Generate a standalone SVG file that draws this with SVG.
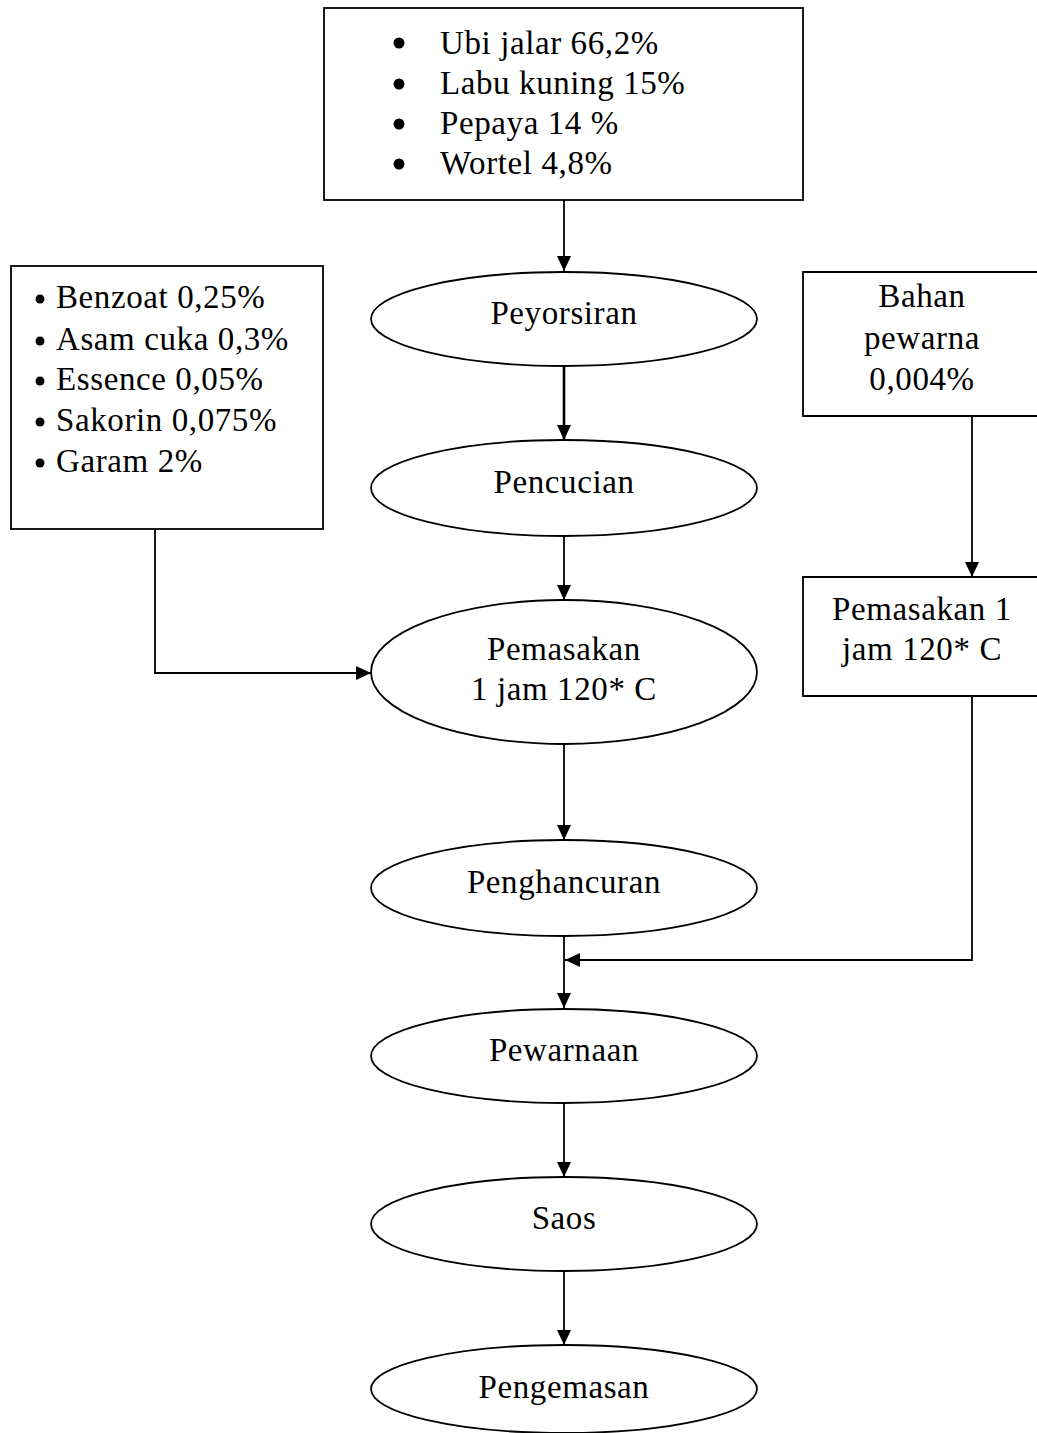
<svg xmlns="http://www.w3.org/2000/svg" width="1037" height="1433" viewBox="0 0 1037 1433">
<defs>
<marker id="ah" markerWidth="15" markerHeight="14" viewBox="0 0 15 14" refX="15" refY="7" orient="auto" markerUnits="userSpaceOnUse">
<path d="M0,0 L15,7 L0,14 Z" fill="#000"/>
</marker>
<style>
text{font-family:"Liberation Serif","Times New Roman",serif;font-size:33px;letter-spacing:0.6px;fill:#000}
.c{text-anchor:middle}
.box{fill:#fff;stroke:#000;stroke-width:1.8}
.el{fill:#fff;stroke:#000;stroke-width:1.8}
.ln{fill:none;stroke:#000;stroke-width:1.8}
.b{fill:#000}
</style>
</defs>
<rect width="1037" height="1433" fill="#fff"/>

<g id="connectors">
<path class="ln" d="M564,200 V271" marker-end="url(#ah)"/>
<path class="ln" d="M564,366 V440" marker-end="url(#ah)" style="stroke-width:2.6"/>
<path class="ln" d="M564,536 V600" marker-end="url(#ah)"/>
<path class="ln" d="M155,529 V673 H371" marker-end="url(#ah)"/>
<path class="ln" d="M564,745 V840" marker-end="url(#ah)"/>
<path class="ln" d="M972,416 V577" marker-end="url(#ah)"/>
<path class="ln" d="M972,696 V960 H565" marker-end="url(#ah)"/>
<path class="ln" d="M564,936 V1008" marker-end="url(#ah)"/>
<path class="ln" d="M564,1103 V1177" marker-end="url(#ah)"/>
<path class="ln" d="M564,1271 V1345" marker-end="url(#ah)"/>
</g>

<g id="bahan-utama">
<rect class="box" x="324" y="8" width="479" height="192"/>
<circle class="b" cx="399" cy="43" r="5.5"/>
<circle class="b" cx="399" cy="84" r="5.5"/>
<circle class="b" cx="399" cy="124" r="5.5"/>
<circle class="b" cx="399" cy="164" r="5.5"/>
<text x="440" y="54">Ubi jalar 66,2%</text>
<text x="440" y="94">Labu kuning 15%</text>
<text x="440" y="134">Pepaya 14 %</text>
<text x="440" y="174">Wortel 4,8%</text>
</g>

<g id="bahan-tambahan">
<rect class="box" x="11" y="266" width="312" height="263"/>
<circle class="b" cx="40" cy="299" r="4.5"/>
<circle class="b" cx="40" cy="341" r="4.5"/>
<circle class="b" cx="40" cy="381" r="4.5"/>
<circle class="b" cx="40" cy="422" r="4.5"/>
<circle class="b" cx="40" cy="463" r="4.5"/>
<text x="56" y="308">Benzoat 0,25%</text>
<text x="56" y="350">Asam cuka 0,3%</text>
<text x="56" y="390">Essence 0,05%</text>
<text x="56" y="431">Sakorin 0,075%</text>
<text x="56" y="472">Garam 2%</text>
</g>

<g id="bahan-pewarna">
<path class="box" d="M1045,272 H803 V416 H1045"/>
<text class="c" x="922" y="307">Bahan</text>
<text class="c" x="922" y="349">pewarna</text>
<text class="c" x="922" y="390">0,004%</text>
</g>

<g id="pemasakan-pewarna">
<path class="box" d="M1045,577 H803 V696 H1045"/>
<text class="c" x="922" y="620">Pemasakan 1</text>
<text class="c" x="922" y="660">jam 120* C</text>
</g>

<g id="peyorsiran">
<ellipse class="el" cx="564" cy="319" rx="193" ry="47"/>
<text class="c" x="564" y="324">Peyorsiran</text>
</g>

<g id="pencucian">
<ellipse class="el" cx="564" cy="488" rx="193" ry="48"/>
<text class="c" x="564" y="493">Pencucian</text>
</g>

<g id="pemasakan">
<ellipse class="el" cx="564" cy="672" rx="193" ry="72"/>
<text class="c" x="564" y="660">Pemasakan</text>
<text class="c" x="564" y="700">1 jam 120* C</text>
</g>

<g id="penghancuran">
<ellipse class="el" cx="564" cy="888" rx="193" ry="48"/>
<text class="c" x="564" y="893">Penghancuran</text>
</g>

<g id="pewarnaan">
<ellipse class="el" cx="564" cy="1056" rx="193" ry="47"/>
<text class="c" x="564" y="1061">Pewarnaan</text>
</g>

<g id="saos">
<ellipse class="el" cx="564" cy="1224" rx="193" ry="47"/>
<text class="c" x="564" y="1229">Saos</text>
</g>

<g id="pengemasan">
<ellipse class="el" cx="564" cy="1389" rx="193" ry="44"/>
<text class="c" x="564" y="1398">Pengemasan</text>
</g>
</svg>
